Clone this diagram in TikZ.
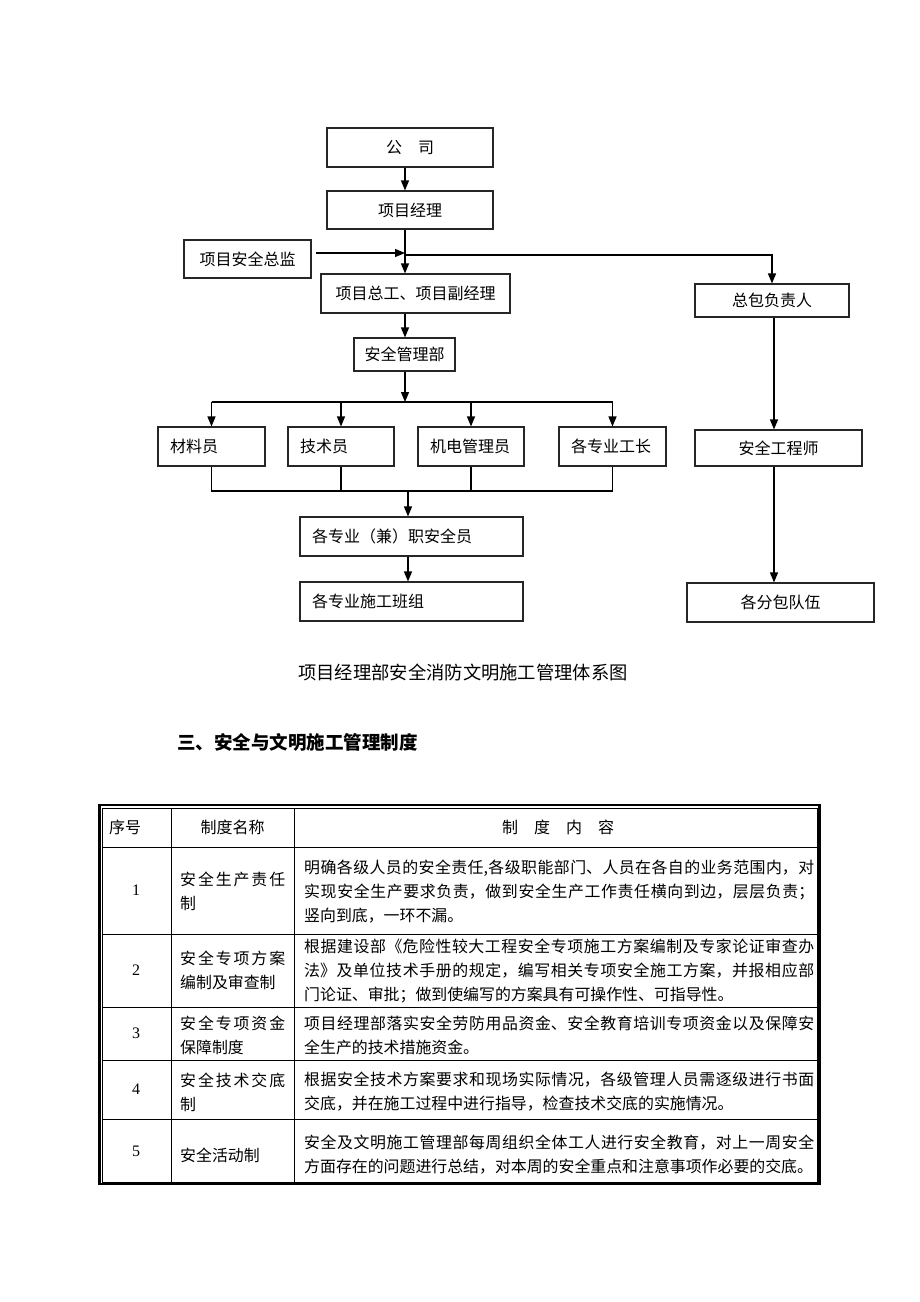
\documentclass[tikz,border=0pt]{standalone}
\usepackage{fontspec}
\setmainfont{Noto Sans CJK SC}
\newfontfamily\numfont{Liberation Serif}
\usetikzlibrary{arrows.meta}
\XeTeXlinebreaklocale "zh"
\XeTeXlinebreakskip=0pt plus 1pt

\begin{document}
\begin{tikzpicture}[x=1pt,y=-1pt,
  box/.style={draw=black!85,line width=1.1pt,inner sep=0pt,minimum height=39pt,font=\fontsize{16}{19}\selectfont},
  lbox/.style={box,text width=#1,align=left,inner xsep=12pt},
  arr/.style={line width=1.3pt,-{Triangle[length=10pt,width=8pt]}},
  link/.style={line width=1.2pt},
  cell/.style={line width=0.8pt},
  hd/.style={font=\fontsize{16}{19}\selectfont,inner sep=0pt},
  num/.style={font=\numfont\fontsize{16}{19}\selectfont,inner sep=0pt},
  txt/.style={font=\fontsize{15.9}{24}\selectfont,inner sep=0pt,anchor=west,align=justify}]
\fill[white] (0,0) rectangle (920,1302);
% flow chart
\node[box,minimum width=166pt] (gs) at (410,147.5) {公　司};
\node[box,minimum width=166pt,minimum height=38pt] (jl) at (410,210) {项目经理};
\node[box,minimum width=127pt,minimum height=38pt] (zj) at (247.5,259) {项目安全总监};
\node[box,minimum width=189pt] (zg) at (415.5,293.5) {项目总工、项目副经理};
\node[box,minimum width=154pt,minimum height=33pt] (zb) at (772,300.5) {总包负责人};
\node[box,minimum width=101pt,minimum height=33pt] (aqb) at (404.5,354.5) {安全管理部};
\node[lbox=83pt] (cl) at (211.5,446.5) {材料员};
\node[lbox=82pt] (js) at (341,446.5) {技术员};
\node[lbox=82pt] (jd) at (471,446.5) {机电管理员};
\node[lbox=83pt] (gz) at (612.5,446.5) {各专业工长};
\node[box,minimum width=167pt,minimum height=36pt] (gcs) at (778.5,448) {安全工程师};
\node[lbox=199pt] (aqy) at (411.5,536.5) {各专业（兼）职安全员};
\node[lbox=199pt] (bz) at (411.5,601.5) {各专业施工班组};
\node[box,minimum width=187pt] (dw) at (780.5,602.5) {各分包队伍};

\coordinate (sp) at (405,0);\coordinate (rs) at (774,0);
\draw[arr] (gs.south -| sp) -- (jl.north -| sp);
\draw[arr] (jl.south -| sp) -- (zg.north -| sp);
\coordinate (zjo) at ([xshift=4pt,yshift=6pt]zj.east);
\draw[arr] (zjo) -- (zjo -| sp);
\coordinate (br) at (405,255);
\draw[arr] (br) -| (zb.north);
\draw[arr] (zg.south -| sp) -- (aqb.north -| sp);
\coordinate (bus1) at (405,402);
\draw[arr] (aqb.south -| sp) -- (bus1);
\draw[link] (cl.north |- bus1) -- (gz.north |- bus1);
\foreach \b in {cl,js,jd,gz} \draw[arr] (\b.north |- bus1) -- (\b.north);
\coordinate (bus2) at (408,491);
\draw[link] (cl.south) |- (gz.south |- bus2) -- (gz.south);
\foreach \b in {js,jd} \draw[link] (\b.south) -- (\b.south |- bus2);
\draw[arr] (bus2) -- (bus2 |- aqy.north);
\draw[arr] (bus2 |- aqy.south) -- (bus2 |- bz.north);
\draw[arr] (zb.south -| rs) -- (gcs.north -| rs);
\draw[arr] (gcs.south -| rs) -- (dw.north -| rs);

\node[font=\fontsize{18.3}{20}\selectfont] (cap) at (463,672) {项目经理部安全消防文明施工管理体系图};
\node[font=\fontsize{18.5}{20}\selectfont\bfseries,anchor=west,inner sep=0pt] (sec) at (177,742) {三、安全与文明施工管理制度};

% table
\draw[line width=2.4pt] (99.5,805) rectangle (819.5,1184);
\draw[cell] (102.5,808) rectangle (817,1182);
\foreach \x in {171,294} \draw[cell] (\x,808) -- (\x,1182);
\foreach \y in {847,934,1007,1060,1119} \draw[cell] (102.5,\y) -- (817,\y);

\node[hd] (h1) at (125,827) {序号};
\node[hd] (h2) at (232.5,827) {制度名称};
\node[hd] (h3) at (558,827) {制　度　内　容};
\foreach \n/\y in {1/890.5,2/970.5,3/1033.5,4/1089.5,5/1151} \node[num] (n\n) at (136,\y) {\n};

\node[txt,text width=105pt] (m1) at (180,891.5) {安全生产责任\linebreak 制};
\node[txt,text width=105pt] (m2) at (180,970.5) {安全专项方案\linebreak 编制及审查制};
\node[txt,text width=105pt] (m3) at (180,1035) {安全专项资金\linebreak 保障制度};
\node[txt,text width=105pt] (m4) at (180,1092) {安全技术交底\linebreak 制};
\node[txt,text width=105pt] (m5) at (180,1155) {安全活动制};

\node[txt,text width=510pt] (c1) at (304,892) {明确各级人员的安全责任,各级职能部门、人员在各自的业务范围内，对\linebreak 实现安全生产要求负责，做到安全生产工作责任横向到边，层层负责；\linebreak 竖向到底，一环不漏。};
\node[txt,text width=510pt] (c2) at (304,971.5) {根据建设部《危险性较大工程安全专项施工方案编制及专家论证审查办\linebreak 法》及单位技术手册的规定，编写相关专项安全施工方案，并报相应部\linebreak 门论证、审批；做到使编写的方案具有可操作性、可指导性。};
\node[txt,text width=510pt] (c3) at (304,1035) {项目经理部落实安全劳防用品资金、安全教育培训专项资金以及保障安\linebreak 全生产的技术措施资金。};
\node[txt,text width=510pt] (c4) at (304,1092) {根据安全技术方案要求和现场实际情况，各级管理人员需逐级进行书面\linebreak 交底，并在施工过程中进行指导，检查技术交底的实施情况。};
\node[txt,text width=510pt] (c5) at (304,1155) {安全及文明施工管理部每周组织全体工人进行安全教育，对上一周安全\linebreak 方面存在的问题进行总结，对本周的安全重点和注意事项作必要的交底。};
\end{tikzpicture}
\end{document}
